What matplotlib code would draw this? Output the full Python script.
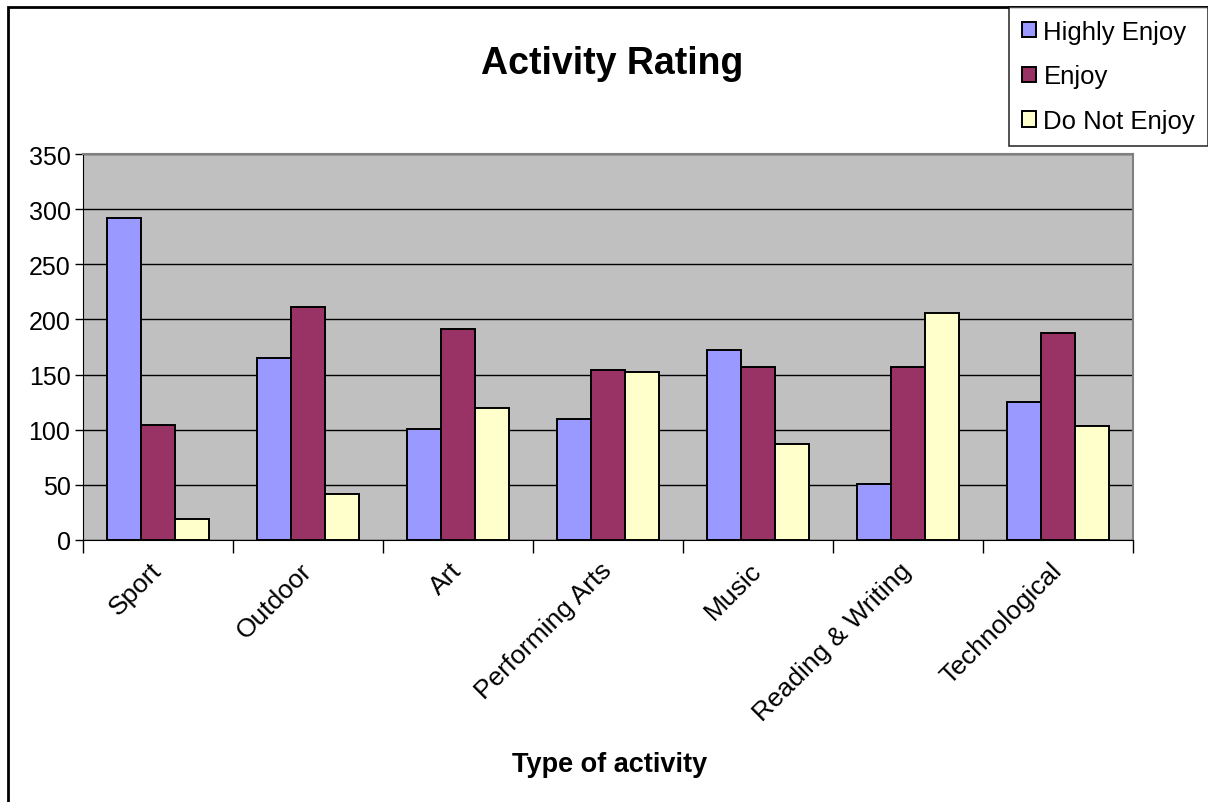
import numpy as np
import matplotlib
matplotlib.use("Agg")
import matplotlib.pyplot as plt
from matplotlib.patches import Rectangle

plt.rcParams['font.family'] = ['Liberation Sans', 'DejaVu Sans']

categories = ['Sport', 'Outdoor', 'Art', 'Performing Arts', 'Music',
              'Reading & Writing', 'Technological']
highly_enjoy = [292, 165, 101, 110, 172, 51, 125]
enjoy = [104, 211, 191, 154, 157, 157, 188]
do_not_enjoy = [19, 42, 120, 152, 87, 206, 103]
series_names = ['Highly Enjoy', 'Enjoy', 'Do Not Enjoy']
colors = ['#9999FF', '#993366', '#FFFFCC']

fig = plt.figure(figsize=(12.08, 8.03), dpi=100)
ax = fig.add_axes([83/1208, 1 - 541/803, 1050/1208, 386/803])
ax.set_facecolor('#C0C0C0')

x = np.arange(len(categories))
w = 0.227
bars = []
for i, (vals, name, c) in enumerate(zip([highly_enjoy, enjoy, do_not_enjoy], series_names, colors)):
    b = ax.bar(x + (i - 1) * w, vals, w, color=c, edgecolor='black', linewidth=1.4,
               label=name, zorder=3)
    bars.append(b)

ax.set_xlim(-0.5, len(categories) - 0.5)
ax.set_ylim(0, 350)
ax.set_yticks(np.arange(0, 351, 50))
ax.yaxis.grid(True, color='black', linewidth=1, zorder=1)
ax.set_axisbelow(True)

ax.set_xticks(x)
ax.set_xticklabels(categories, rotation=45, ha='right', va='center',
                   rotation_mode='anchor', fontsize=19)
ax.set_xticks(np.arange(-0.5, len(categories)), minor=True)
ax.tick_params(axis='x', which='major', length=0, pad=19)
ax.tick_params(axis='x', which='minor', length=9, width=1, direction='out', color='black')
ax.tick_params(axis='y', length=6, width=1, labelsize=18, pad=3)

for s in ['top', 'right']:
    ax.spines[s].set_color('#808080')
    ax.spines[s].set_linewidth(1.5)
for s in ['left', 'bottom']:
    ax.spines[s].set_color('black')

fig.text(0.507, 1 - 64/803, 'Activity Rating', ha='center', va='center',
         fontsize=27, fontweight='bold')
fig.text(0.505, 1 - 765/803, 'Type of activity', ha='center', va='center',
         fontsize=19.5, fontweight='bold')

leg = fig.legend(handles=bars, labels=series_names, loc='upper right',
                 bbox_to_anchor=(1.0, 1 - 8/803), fontsize=18.5, frameon=True,
                 fancybox=False, borderaxespad=0, handlelength=0.55, handleheight=0.55,
                 handletextpad=0.3, labelspacing=0.8, borderpad=0.5)
leg.get_frame().set_edgecolor('black')
leg.get_frame().set_linewidth(1.2)

fig.patches.append(Rectangle((8/1208, -0.01), 1.1, 1 - 8/803 + 0.01, transform=fig.transFigure,
                             fill=False, edgecolor='black', linewidth=2))

fig.savefig('out.png', dpi=100)
